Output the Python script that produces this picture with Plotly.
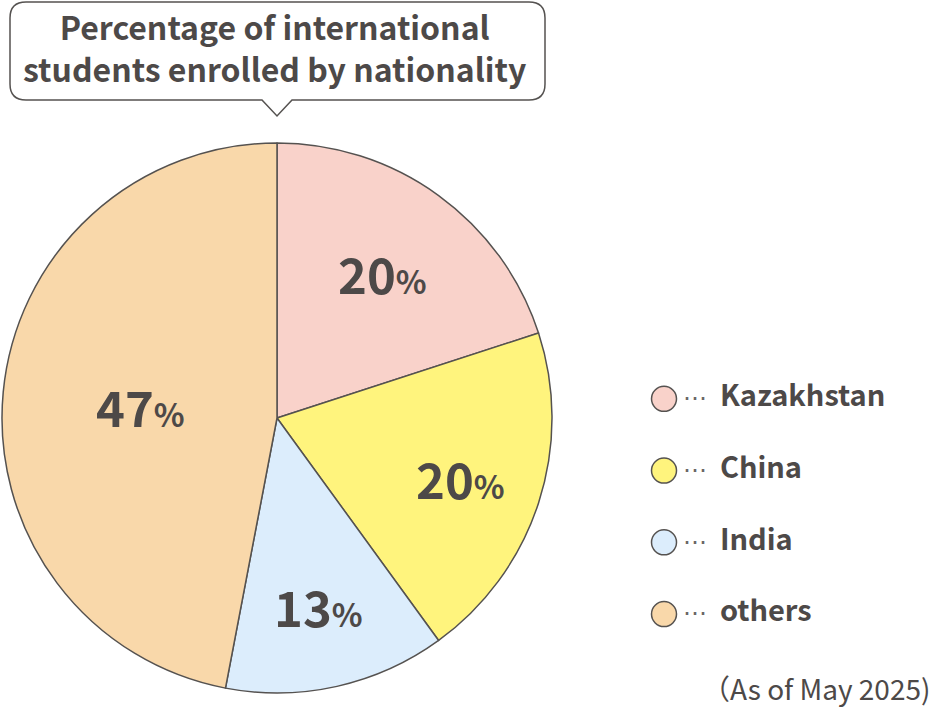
import math
import plotly.graph_objects as go

categories = ["Kazakhstan", "China", "India", "others"]
values = [20, 20, 13, 47]
colors = ["#F9D2CA", "#FFF47D", "#DCEDFC", "#F9D8AA"]
title_lines = ["Percentage of international", "students enrolled by nationality"]
note = "（As of May 2025)"

W, H = 936, 712
CX, CY, R = 277, 418, 275          # pie centre / radius in px
label_r = [0.655, 0.70, 0.70, 0.50]  # label radius as fraction of R
TXT = "#4D4948"
LINE = "#555250"
FONT = "Noto Sans CJK JP"

fig = go.Figure()

fig.add_trace(go.Pie(
    labels=categories, values=values, sort=False, direction="clockwise",
    rotation=0, textinfo="none", hoverinfo="label+percent",
    marker=dict(colors=colors, line=dict(color=LINE, width=1.5)),
    domain=dict(x=[(CX - R) / W, (CX + R) / W],
                y=[(H - CY - R) / H, (H - CY + R) / H]),
    showlegend=False,
))

# percentage labels placed at slice mid-angles
total = sum(values)
cum = 0
annotations = []
for v, f in zip(values, label_r):
    mid = (cum + v / 2) / total * 2 * math.pi
    cum += v
    px = CX + R * f * math.sin(mid)
    py = CY - R * f * math.cos(mid)
    pct = round(v / total * 100)
    annotations.append(dict(
        x=px, y=py, xref="x", yref="y", showarrow=False,
        text=f"<b>{pct}</b><b><span style='font-size:32px'>%</span></b>",
        font=dict(family=FONT, size=49, color=TXT),
        xanchor="center", yanchor="middle",
    ))

# legend via scatter on its own axis
dots = "<span style='font-family:DejaVu Sans;font-size:24px;color:#6a6665'>⋯</span>"
pad = "<span style='font-size:10px'>\u00a0</span>"
fig.add_trace(go.Scatter(
    x=[0] * len(categories), y=list(range(len(categories))),
    xaxis="x2", yaxis="y2", mode="markers+text",
    marker=dict(size=25, color=colors, line=dict(color=LINE, width=1.5)),
    text=[f"{pad}{dots}\u00a0\u00a0<b>{c}</b>" for c in categories],
    textposition="middle right",
    textfont=dict(family=FONT, size=29, color=TXT),
    showlegend=False, hoverinfo="skip", cliponaxis=False,
))

# title bubble
x0, x1, y0, y1, rr = 10, 545, 2, 100, 16
tip_x, tip_w, tip_y = 277, 15, 116
path = (f"M {x0+rr},{y0} L {x1-rr},{y0} Q {x1},{y0} {x1},{y0+rr} "
        f"L {x1},{y1-rr} Q {x1},{y1} {x1-rr},{y1} "
        f"L {tip_x+tip_w},{y1} L {tip_x},{tip_y} L {tip_x-tip_w},{y1} "
        f"L {x0+rr},{y1} Q {x0},{y1} {x0},{y1-rr} L {x0},{y0+rr} Q {x0},{y0} {x0+rr},{y0} Z")
shapes = [dict(type="path", path=path, xref="x", yref="y",
               line=dict(color=LINE, width=1.5), fillcolor="white", layer="below")]

annotations.append(dict(
    x=(x0 + x1) / 2 - 3, y=(y0 + y1) / 2 - 4, xref="x", yref="y", showarrow=False,
    text="<br>".join(f"<b>{t}</b>" for t in title_lines),
    font=dict(family=FONT, size=32, color=TXT), xanchor="center", yanchor="middle",
))
annotations.append(dict(
    x=932 / W, y=1 - 688 / H, xref="paper", yref="paper", showarrow=False, text=note,
    font=dict(family=FONT, size=28, color=TXT), xanchor="right", yanchor="middle",
))

fig.update_layout(
    width=W, height=H, margin=dict(l=0, r=0, t=0, b=0),
    paper_bgcolor="white", plot_bgcolor="rgba(0,0,0,0)",
    xaxis=dict(range=[0, W], domain=[0, 1], visible=False, fixedrange=True),
    yaxis=dict(range=[H, 0], domain=[0, 1], visible=False, fixedrange=True),
    xaxis2=dict(domain=[640 / W, 1], range=[-1, 11.33], visible=False, anchor="y2", fixedrange=True),
    yaxis2=dict(domain=[1 - 650 / H, 1 - 363 / H], range=[3.5, -0.5], visible=False, anchor="x2", fixedrange=True),
    shapes=shapes, annotations=annotations,
)

fig.write_html("out.html", config={"displayModeBar": False},
               post_script="document.body.style.margin='0';document.body.style.overflow='hidden';")
